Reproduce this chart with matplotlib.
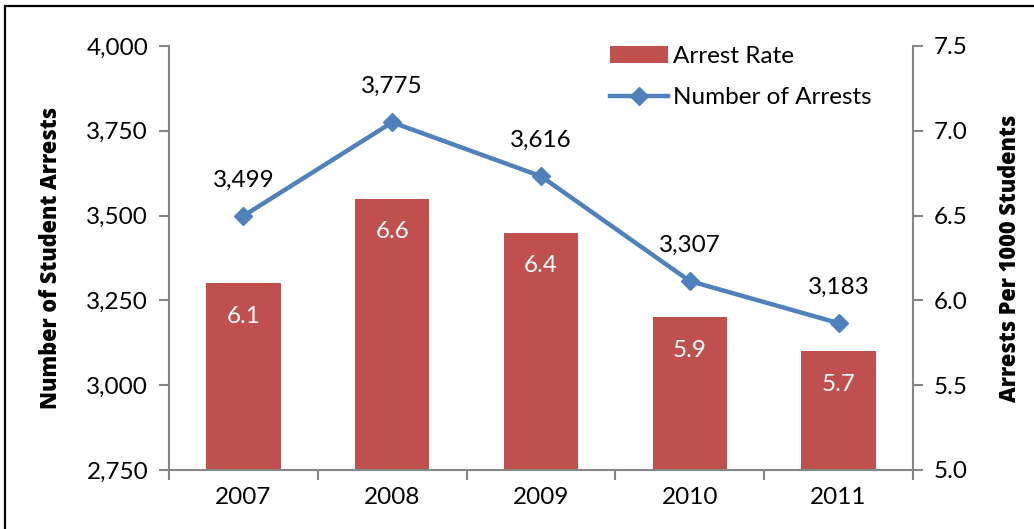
"""Student arrests 2007-2011: arrest count (line) vs arrest rate (bars)."""
import matplotlib.pyplot as plt
from matplotlib.lines import Line2D
from matplotlib.patches import Patch, Rectangle
from matplotlib.ticker import FuncFormatter, MultipleLocator

years = ["2007", "2008", "2009", "2010", "2011"]
arrests = [3499, 3775, 3616, 3307, 3183]
rate_per_1000 = [6.1, 6.6, 6.4, 5.9, 5.7]

BAR_RED = "#C0504D"
LINE_BLUE = "#4F81BD"
AXIS_GREY = "#868686"
FONT = "Lato"
FS = 17.5
LABEL_FS = 15.7

plt.rcParams["font.family"] = [FONT, "DejaVu Sans"]

fig = plt.figure(figsize=(10.34, 5.29), dpi=100)
ax = fig.add_axes([169 / 1034, 1 - 470 / 529, 744 / 1034, 424 / 529])
ax2 = ax.twinx()

x = list(range(len(years)))

# bars on the right-hand (rate) scale
bars = ax2.bar(x, rate_per_1000, width=0.5, color=BAR_RED, zorder=2)
for xi, v in zip(x, rate_per_1000):
    ax2.annotate(f"{v:.1f}", (xi, v), xytext=(0, -33), textcoords="offset pixels",
                 ha="center", va="center", color="white", fontsize=FS)

# arrest counts on the left scale, drawn above the bars
ax.set_zorder(ax2.get_zorder() + 1)
ax.patch.set_visible(False)
ax.plot(x, arrests, color=LINE_BLUE, lw=3.2, marker="D", ms=9.5,
        markerfacecolor=LINE_BLUE, markeredgecolor=LINE_BLUE)
for xi, v in zip(x, arrests):
    ax.annotate(f"{v:,}", (xi, v), xytext=(0, 36), textcoords="offset pixels",
                ha="center", va="center", fontsize=FS)

ax.set_xlim(-0.5, len(years) - 0.5)
ax.set_ylim(2750, 4000)
ax2.set_ylim(5.0, 7.5)
ax.yaxis.set_major_locator(MultipleLocator(250))
ax.yaxis.set_major_formatter(FuncFormatter(lambda v, _: f"{v:,.0f}"))
ax2.yaxis.set_major_locator(MultipleLocator(0.5))
ax2.yaxis.set_major_formatter(FuncFormatter(lambda v, _: f"{v:.1f}"))

# category labels centred, tick marks between categories
ax.set_xticks(x)
ax.set_xticklabels(years)
ax.set_xticks([i - 0.5 for i in range(len(years) + 1)], minor=True)
ax.tick_params(axis="x", which="major", length=0, pad=12, labelsize=FS)
ax.tick_params(axis="x", which="minor", length=7, width=1.5, color=AXIS_GREY)
ax.tick_params(axis="y", length=7, width=1.5, color=AXIS_GREY, labelsize=FS, pad=8)
ax2.tick_params(axis="y", length=7, width=1.5, color=AXIS_GREY, labelsize=FS, pad=8)

for a in (ax, ax2):
    a.spines["top"].set_visible(False)
    for s in ("left", "right", "bottom"):
        a.spines[s].set_color(AXIS_GREY)
        a.spines[s].set_linewidth(1.5)
ax.spines["right"].set_visible(False)
ax2.spines["left"].set_visible(False)
ax2.spines["bottom"].set_visible(False)

ax.set_ylabel("Number of Student Arrests", fontsize=LABEL_FS, fontweight="heavy",
              family=["Open Sans", "DejaVu Sans"], labelpad=17)
ax2.set_ylabel("Arrests Per 1000 Students", fontsize=LABEL_FS, fontweight="heavy",
               family=["Open Sans", "DejaVu Sans"], labelpad=22)

handles = [
    Patch(facecolor=BAR_RED, label="Arrest Rate"),
    Line2D([], [], color=LINE_BLUE, lw=3.2, marker="D", ms=9.5, label="Number of Arrests"),
]
ax.legend(handles=handles, loc="upper left", bbox_to_anchor=(600 / 1034, 1 - 36 / 529),
          bbox_transform=fig.transFigure, frameon=False, fontsize=FS,
          handlelength=2.4, handletextpad=0.2, labelspacing=0.85, borderaxespad=0)

# outer frame, running off the right and bottom edges
fig.add_artist(Rectangle((5 / 1034, -0.1), 1.2, 1.1 - 6 / 529, transform=fig.transFigure,
                         fill=False, edgecolor="black", lw=1.6, clip_on=False))

fig.savefig("out.png", dpi=100)
